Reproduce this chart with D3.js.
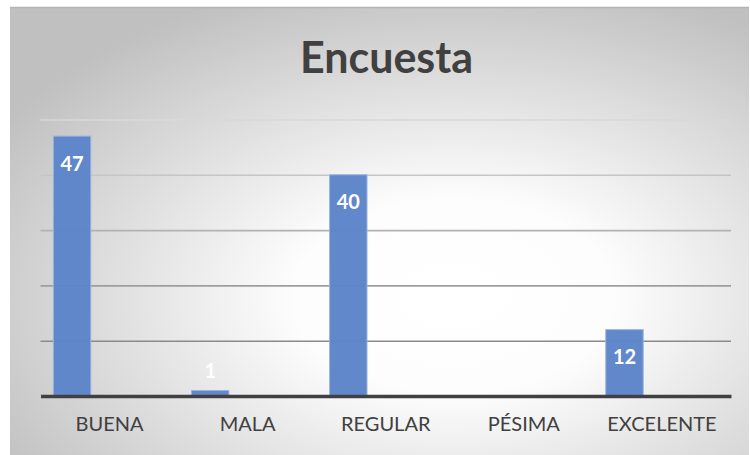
<!DOCTYPE html>
<html>
<head>
<meta charset="utf-8">
<script src="https://cdn.jsdelivr.net/npm/d3@7"></script>
<style>
  html, body { margin: 0; padding: 0; background: #ffffff; }
  svg { display: block; }
</style>
</head>
<body>
<svg id="chart" width="750" height="455"></svg>
<script>
// Survey results
const categories = ["BUENA", "MALA", "REGULAR", "PÉSIMA", "EXCELENTE"];
const values = [47, 1, 40, 0, 12];
const yTicks = [0, 10, 20, 30, 40, 50];
// Each category band holds three series slots; only the first one carries data.
const slots = ["s1", "s2", "s3"];
const chartTitle = "Encuesta";

const svg = d3.select("#chart");
const defs = svg.append("defs");

// Chart area background: radial gradient, light in the middle, grey at the edges
const bg = defs.append("radialGradient")
  .attr("id", "bgGrad")
  .attr("cx", 0.6).attr("cy", 0.64).attr("r", 0.72)
  .attr("fx", 0.6).attr("fy", 0.64);
bg.append("stop").attr("offset", "0%").attr("stop-color", "#ffffff");
bg.append("stop").attr("offset", "30%").attr("stop-color", "#fdfdfd");
bg.append("stop").attr("offset", "100%").attr("stop-color", "#c0c0c0");

const area = { x: 10, y: 7, w: 739, h: 452 };
svg.append("rect")
  .attr("x", area.x).attr("y", area.y)
  .attr("width", area.w).attr("height", area.h)
  .attr("fill", "url(#bgGrad)");
svg.append("line")
  .attr("x1", area.x).attr("x2", area.x + area.w)
  .attr("y1", area.y + 0.5).attr("y2", area.y + 0.5)
  .attr("stroke", "#b4b4b4").attr("stroke-width", 1.5);

// Plot geometry
const plot = { left: 40.5, right: 731, top: 119.5, bottom: 396 };

const x = d3.scaleBand()
  .domain(categories)
  .range([plot.left, plot.right])
  .paddingInner(0).paddingOuter(0);

const xs = d3.scaleBand()
  .domain(slots)
  .range([0, x.bandwidth()])
  .paddingInner(0).paddingOuter(0.343);

const y = d3.scaleLinear()
  .domain([0, 50])
  .range([plot.bottom, plot.top]);

// Gridlines shade from light at the top to darker near the axis
const gridColor = d3.scaleLinear()
  .domain([50, 10])
  .range(["#d9d9d9", "#8a8a8a"]);

const grid = svg.append("g")
  .attr("transform", `translate(${plot.left},0)`)
  .call(d3.axisLeft(y).tickValues(yTicks.filter(v => v > 0))
    .tickSize(-(plot.right - plot.left)).tickFormat(""));
grid.select(".domain").remove();
grid.selectAll(".tick line")
  .attr("stroke", d => gridColor(d))
  .attr("stroke-width", 1.6);

// Bars
svg.append("g").selectAll("rect")
  .data(categories.map((c, i) => ({ c, v: values[i] })).filter(d => d.v > 0))
  .join("rect")
  .attr("x", d => x(d.c) + xs("s1"))
  .attr("y", d => y(d.v))
  .attr("width", xs.bandwidth())
  .attr("height", d => y(0) - y(d.v))
  .attr("fill", "#5b84c9")
  .attr("fill-opacity", 0.97)
  .attr("stroke", "#9db5e0")
  .attr("stroke-width", 1);

// Category axis
const xAxis = svg.append("g")
  .attr("transform", `translate(0,${plot.bottom})`)
  .call(d3.axisBottom(x).tickSize(0).tickPadding(21));
xAxis.select(".domain")
  .attr("stroke", "#404040")
  .attr("stroke-width", 3.5);
xAxis.selectAll(".tick text")
  .attr("fill", "#404040")
  .style("font-family", "Lato, 'Open Sans', sans-serif")
  .style("font-size", "20px");

// Value labels at the inside end of each bar
svg.append("g").selectAll("text")
  .data(categories.map((c, i) => ({ c, v: values[i] })).filter(d => d.v > 0))
  .join("text")
  .attr("x", d => x(d.c) + xs("s1") + xs.bandwidth() / 2)
  .attr("y", d => (y(0) - y(d.v) > 40) ? y(d.v) + 34.5 : y(d.v) - 12.5)
  .attr("text-anchor", "middle")
  .attr("fill", "#ffffff")
  .style("font-family", "Lato, 'Open Sans', sans-serif")
  .style("font-weight", "bold")
  .style("font-size", "20px")
  .text(d => d.v);

// Title
svg.append("text")
  .attr("x", 386.5)
  .attr("y", 73)
  .attr("text-anchor", "middle")
  .attr("fill", "#404040")
  .style("font-family", "Lato, 'Open Sans', sans-serif")
  .style("font-weight", "bold")
  .style("font-size", "43px")
  .text(chartTitle);
</script>
</body>
</html>
